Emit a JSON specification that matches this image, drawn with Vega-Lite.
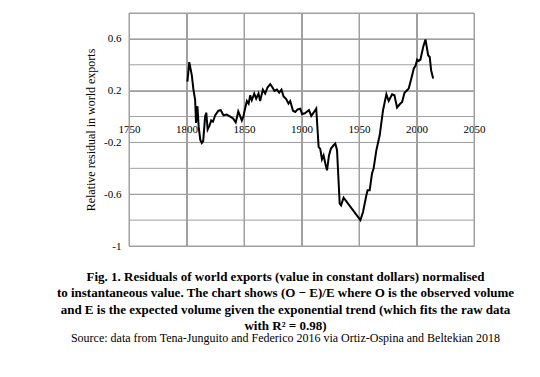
{
  "$schema": "https://vega.github.io/schema/vega-lite/v6.json",
  "width": 345,
  "height": 233,
  "autosize": {"type": "none"},
  "padding": {"left": 129, "top": 13, "right": 66, "bottom": 131},
  "background": "white",
  "config": {
    "view": {"stroke": "#a0a0a0", "strokeWidth": 1},
    "axis": {"grid": true, "gridColor": "#a0a0a0", "gridWidth": 1, "domainOpacity": 0, "tickOpacity": 0, "tickSize": 0, "labelFont": "Liberation Serif", "labelFontSize": 11, "labelColor": "#000", "titleFont": "Liberation Serif", "titleColor": "#000"}
  },
  "title": {
    "text": [
      "Fig. 1. Residuals of world exports (value in constant dollars) normalised",
      "to instantaneous value. The chart shows (O − E)/E where O is the observed volume",
      "and E is the expected volume given the exponential trend (which fits the raw data",
      "with R² = 0.98)"
    ],
    "subtitle": "Source: data from Tena-Junguito and Federico 2016 via Ortiz-Ospina and Beltekian 2018",
    "orient": "bottom",
    "anchor": "middle",
    "frame": "group",
    "dx": -16,
    "offset": 20,
    "font": "Liberation Serif",
    "fontSize": 13,
    "fontWeight": "bold",
    "lineHeight": 16.3,
    "color": "#000",
    "subtitleFont": "Liberation Serif",
    "subtitleFontSize": 12,
    "subtitleColor": "#000",
    "subtitlePadding": 0
  },
  "layer": [
    {
      "data": {"values": [{"year": 1750}, {"year": 1800}, {"year": 1850}, {"year": 1900}, {"year": 1950}, {"year": 2000}, {"year": 2050}]},
      "mark": {"type": "rule", "color": "#a0a0a0", "strokeWidth": 1},
      "encoding": {
        "x": {"field": "year", "type": "quantitative", "scale": {"domain": [1750, 2050], "nice": false, "zero": false}}
      }
    },
    {
      "data": {"values": [{"value": -1}, {"value": -0.8}, {"value": -0.6}, {"value": -0.4}, {"value": -0.2}, {"value": 0}, {"value": 0.2}, {"value": 0.4}, {"value": 0.6}, {"value": 0.8}]},
      "mark": {"type": "rule", "color": "#a0a0a0", "strokeWidth": 1},
      "encoding": {
        "y": {"field": "value", "type": "quantitative", "scale": {"domain": [-1, 0.8], "nice": false, "zero": false}}
      }
    },
    {
      "data": {
        "values": [
          {"year": 1800.8, "value": 0.27},
          {"year": 1802.4, "value": 0.42},
          {"year": 1804.6, "value": 0.32},
          {"year": 1806, "value": 0.21},
          {"year": 1807.5, "value": 0.13},
          {"year": 1808.3, "value": -0.05},
          {"year": 1809.5, "value": 0.08},
          {"year": 1810.6, "value": -0.08},
          {"year": 1812, "value": -0.18},
          {"year": 1813.3, "value": -0.205},
          {"year": 1814.5, "value": -0.19},
          {"year": 1816.2, "value": 0.0},
          {"year": 1817.2, "value": 0.03},
          {"year": 1818.4, "value": -0.1},
          {"year": 1820, "value": -0.07},
          {"year": 1821.5, "value": -0.03},
          {"year": 1823, "value": -0.04},
          {"year": 1825, "value": 0.01},
          {"year": 1827.8, "value": 0.045},
          {"year": 1829.8, "value": 0.05},
          {"year": 1832.1, "value": 0.01},
          {"year": 1835, "value": 0.015},
          {"year": 1838, "value": 0.0},
          {"year": 1840.5, "value": -0.015},
          {"year": 1842.8, "value": -0.045},
          {"year": 1843.8, "value": -0.01},
          {"year": 1845, "value": 0.04},
          {"year": 1846.6, "value": 0.005},
          {"year": 1848.1, "value": -0.03},
          {"year": 1849.5, "value": 0.0},
          {"year": 1851, "value": 0.065},
          {"year": 1852.5, "value": 0.12},
          {"year": 1854, "value": 0.1},
          {"year": 1855.4, "value": 0.165},
          {"year": 1856.8, "value": 0.126},
          {"year": 1858.9, "value": 0.178},
          {"year": 1860.6, "value": 0.139},
          {"year": 1862.6, "value": 0.178},
          {"year": 1864, "value": 0.12},
          {"year": 1866.4, "value": 0.208},
          {"year": 1868.4, "value": 0.178},
          {"year": 1870.4, "value": 0.224},
          {"year": 1872.8, "value": 0.25},
          {"year": 1874.8, "value": 0.224},
          {"year": 1876.5, "value": 0.198},
          {"year": 1878.6, "value": 0.208},
          {"year": 1880.6, "value": 0.185},
          {"year": 1882.6, "value": 0.208},
          {"year": 1884.4, "value": 0.155},
          {"year": 1886.7, "value": 0.135},
          {"year": 1888.7, "value": 0.1},
          {"year": 1890.2, "value": 0.12},
          {"year": 1892.6, "value": 0.045},
          {"year": 1894.6, "value": 0.036},
          {"year": 1896.6, "value": 0.055},
          {"year": 1898.9, "value": 0.06},
          {"year": 1900.5, "value": 0.02},
          {"year": 1903, "value": 0.025},
          {"year": 1906.5, "value": 0.05},
          {"year": 1908.5, "value": 0.005},
          {"year": 1910.5, "value": 0.03},
          {"year": 1912.8, "value": 0.062},
          {"year": 1914.9, "value": -0.235},
          {"year": 1916.3, "value": -0.25},
          {"year": 1917.8, "value": -0.33},
          {"year": 1919.2, "value": -0.3},
          {"year": 1920.7, "value": -0.363},
          {"year": 1922.2, "value": -0.415},
          {"year": 1923.9, "value": -0.3},
          {"year": 1925.6, "value": -0.247},
          {"year": 1927.9, "value": -0.222},
          {"year": 1929.4, "value": -0.209},
          {"year": 1930.9, "value": -0.26},
          {"year": 1933.2, "value": -0.672},
          {"year": 1934.4, "value": -0.686},
          {"year": 1936.6, "value": -0.626},
          {"year": 1951.2, "value": -0.8},
          {"year": 1953.5, "value": -0.737},
          {"year": 1956.4, "value": -0.608},
          {"year": 1957.5, "value": -0.569},
          {"year": 1959.3, "value": -0.569},
          {"year": 1961.3, "value": -0.44},
          {"year": 1962.7, "value": -0.402},
          {"year": 1965.1, "value": -0.26},
          {"year": 1968, "value": -0.145},
          {"year": 1970.9, "value": 0.049},
          {"year": 1973.8, "value": 0.172},
          {"year": 1975.8, "value": 0.12},
          {"year": 1978.8, "value": 0.172},
          {"year": 1980.8, "value": 0.165},
          {"year": 1983.1, "value": 0.07},
          {"year": 1985.4, "value": 0.095},
          {"year": 1987.5, "value": 0.113},
          {"year": 1989.5, "value": 0.182},
          {"year": 1991.2, "value": 0.198},
          {"year": 1993.2, "value": 0.216},
          {"year": 1995.3, "value": 0.286},
          {"year": 1997.6, "value": 0.37},
          {"year": 1999.3, "value": 0.396},
          {"year": 2000.6, "value": 0.44},
          {"year": 2001.9, "value": 0.43},
          {"year": 2003.4, "value": 0.44},
          {"year": 2005.8, "value": 0.538},
          {"year": 2007.8, "value": 0.595},
          {"year": 2009.3, "value": 0.518},
          {"year": 2010.1, "value": 0.474},
          {"year": 2011.5, "value": 0.46},
          {"year": 2012.7, "value": 0.358},
          {"year": 2014.5, "value": 0.294}
        ]
      },
      "mark": {"type": "line", "color": "#000", "strokeWidth": 2},
      "encoding": {
        "x": {
          "field": "year",
          "type": "quantitative",
          "scale": {"domain": [1750, 2050], "nice": false, "zero": false},
          "axis": {"values": [1750, 1800, 1850, 1900, 1950, 2000, 2050], "format": "d", "title": null, "offset": -129.5, "labelPadding": 7, "labelOverlap": false, "labelFlush": false}
        },
        "y": {
          "field": "value",
          "type": "quantitative",
          "scale": {"domain": [-1, 0.8], "nice": false, "zero": false},
          "axis": {"values": [-1, -0.8, -0.6, -0.4, -0.2, 0, 0.2, 0.4, 0.6, 0.8], "labelExpr": "replace(format(datum.value, '~g'), '−', '-')", "labelPadding": 8, "title": "Relative residual in world exports", "titleFontSize": 12, "titleFontWeight": "normal", "titlePadding": 6}
        }
      }
    }
  ]
}
